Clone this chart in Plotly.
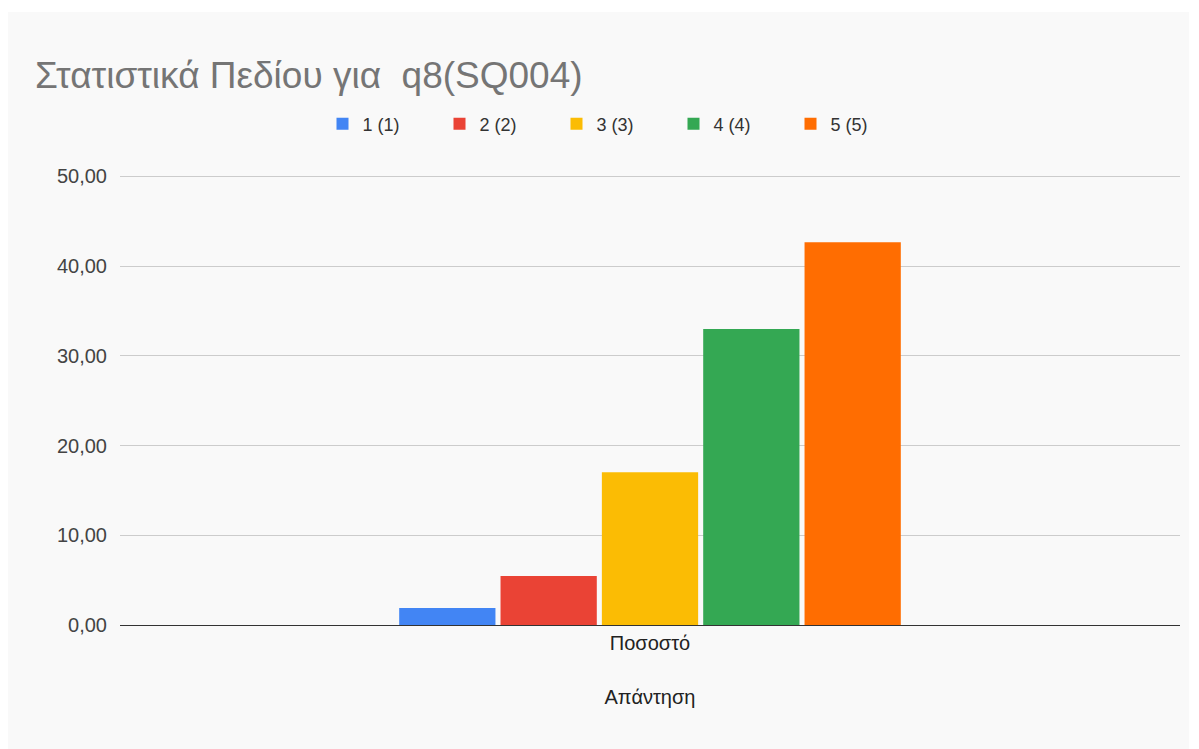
import plotly.graph_objects as go

category = ["Ποσοστό"]
series_names = ["1 (1)", "2 (2)", "3 (3)", "4 (4)", "5 (5)"]
series_values = [1.89, 5.46, 17.02, 32.98, 42.65]
colors = ["#4285f4", "#ea4335", "#fbbc04", "#34a853", "#ff6d01"]

# page has an 8px body margin, so figure coords = page coords - 8
W, H = 1191, 741
L, R, T, B = 112, 19, 166, 124
pw, ph = W - L - R, H - T - B
FONT = "Arial, Liberation Sans, sans-serif"

fig = go.Figure()
for name, val, col in zip(series_names, series_values, colors):
    fig.add_trace(go.Bar(x=category, y=[val], name=name, marker_color=col,
                         marker_line_width=0))

# light grey chart panel
fig.add_shape(type="rect", xref="paper", yref="paper", layer="below",
              x0=(0 - L) / pw, x1=(1181 - L) / pw,
              y0=(T + ph - 741) / ph, y1=(T + ph - 4) / ph,
              fillcolor="#f9f9f9", line_width=0)

fig.update_layout(
    width=W, height=H,
    margin=dict(l=L, r=R, t=T, b=B),
    paper_bgcolor="white", plot_bgcolor="rgba(0,0,0,0)",
    font=dict(family=FONT, color="#444"),
    separators=",.",
    title=dict(text="Στατιστικά Πεδίου για  q8(SQ004)", x=27 / W, xanchor="left",
               y=1 - 67 / H, yanchor="middle",
               font=dict(size=37, color="#757575", family=FONT)),
    legend=dict(orientation="h", x=(607 - L) / pw, xanchor="center", y=1 + 50 / ph,
                yanchor="middle", bgcolor="rgba(0,0,0,0)", entrywidth=72,
                font=dict(size=18, color="#333")),
    barmode="group", bargap=0.522, bargroupgap=0.05,
    showlegend=True,
)
fig.update_yaxes(range=[0, 50.25], tick0=0, dtick=10, tickformat=".2f",
                 gridcolor="#cccccc", zeroline=False, ticks="",
                 ticklabelstandoff=12,
                 tickfont=dict(size=20, color="#444"), showline=False)
fig.update_xaxes(showline=True, linecolor="#333", linewidth=1,
                 tickfont=dict(size=20, color="#222"),
                 title=dict(text="Απάντηση", font=dict(size=20, color="#222"),
                            standoff=36))

fig.write_html("out.html")
